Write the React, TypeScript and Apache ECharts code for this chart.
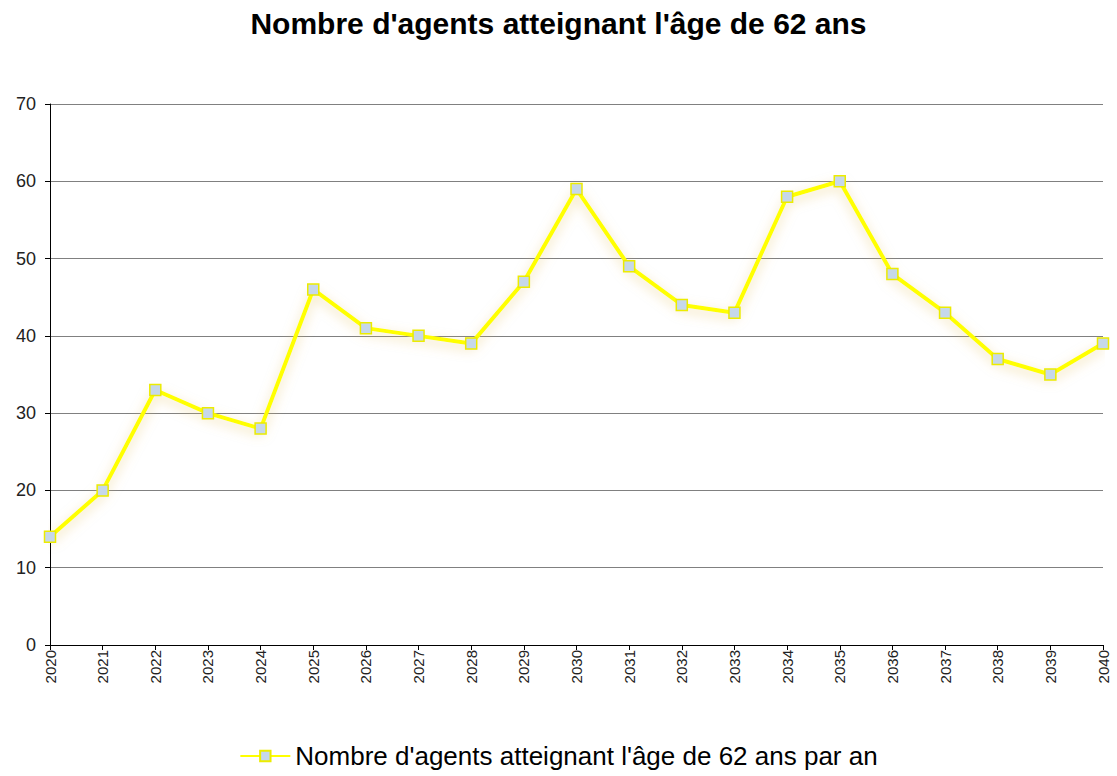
import React, { useEffect, useRef } from "react";
import * as echarts from "echarts";

const years = ["2020","2021","2022","2023","2024","2025","2026","2027","2028","2029","2030","2031","2032","2033","2034","2035","2036","2037","2038","2039","2040"];
const agents = [14, 20, 33, 30, 28, 46, 41, 40, 39, 47, 59, 49, 44, 43, 58, 60, 48, 43, 37, 35, 39];
const seriesName = "Nombre d'agents atteignant l'âge de 62 ans par an";
const title = "Nombre d'agents atteignant l'âge de 62 ans";

export default function App() {
  const ref = useRef<HTMLDivElement>(null);
  useEffect(() => {
    if (!ref.current) return;
    const chart = echarts.init(ref.current, undefined, { renderer: "svg" });
    chart.setOption({
      animation: false,
      backgroundColor: "#ffffff",
      textStyle: { fontFamily: "Liberation Sans, Arial, sans-serif" },
      title: {
        text: title,
        left: "center",
        top: 3,
        textStyle: { fontSize: 30, fontWeight: "bold", color: "#000", fontFamily: "Liberation Sans, Arial, sans-serif" },
      },
      legend: {
        bottom: 2,
        left: "center",
        itemWidth: 50,
        itemHeight: 13,
        itemGap: 3,
        textStyle: { fontSize: 26, color: "#000", fontFamily: "Liberation Sans, Arial, sans-serif" },
        data: [seriesName],
      },
      grid: { left: 50, right: 14, top: 104, bottom: 131, containLabel: false },
      xAxis: {
        type: "category",
        data: years,
        boundaryGap: false,
        axisLine: { lineStyle: { color: "#000", width: 1 } },
        axisTick: { show: true, alignWithLabel: true, length: 5, lineStyle: { color: "#000" } },
        axisLabel: { rotate: 90, fontSize: 15, color: "#222", margin: 5, interval: 0 },
        splitLine: { show: false },
      },
      yAxis: {
        type: "value",
        min: 0,
        max: 70,
        interval: 10,
        axisLine: { show: true, lineStyle: { color: "#000", width: 1 } },
        axisTick: { show: true, length: 5, lineStyle: { color: "#000" } },
        axisLabel: { fontSize: 18, color: "#222", margin: 14 },
        splitLine: { show: true, lineStyle: { color: "#808080", width: 1 } },
      },
      series: [
        {
          name: seriesName,
          type: "line",
          data: agents,
          symbol: "rect",
          symbolSize: 11,
          lineStyle: {
            color: "#ffff00",
            width: 4,
            shadowColor: "rgba(230, 195, 100, 0.6)",
            shadowBlur: 12,
            shadowOffsetY: 4,
          },
          itemStyle: { color: "#c6d8ea", borderColor: "#ecec00", borderWidth: 1.5 },
        },
      ],
    });
    return () => chart.dispose();
  }, []);
  return <div ref={ref} style={{ width: 1117, height: 776, position: "absolute", left: 0, top: 0 }} />;
}
